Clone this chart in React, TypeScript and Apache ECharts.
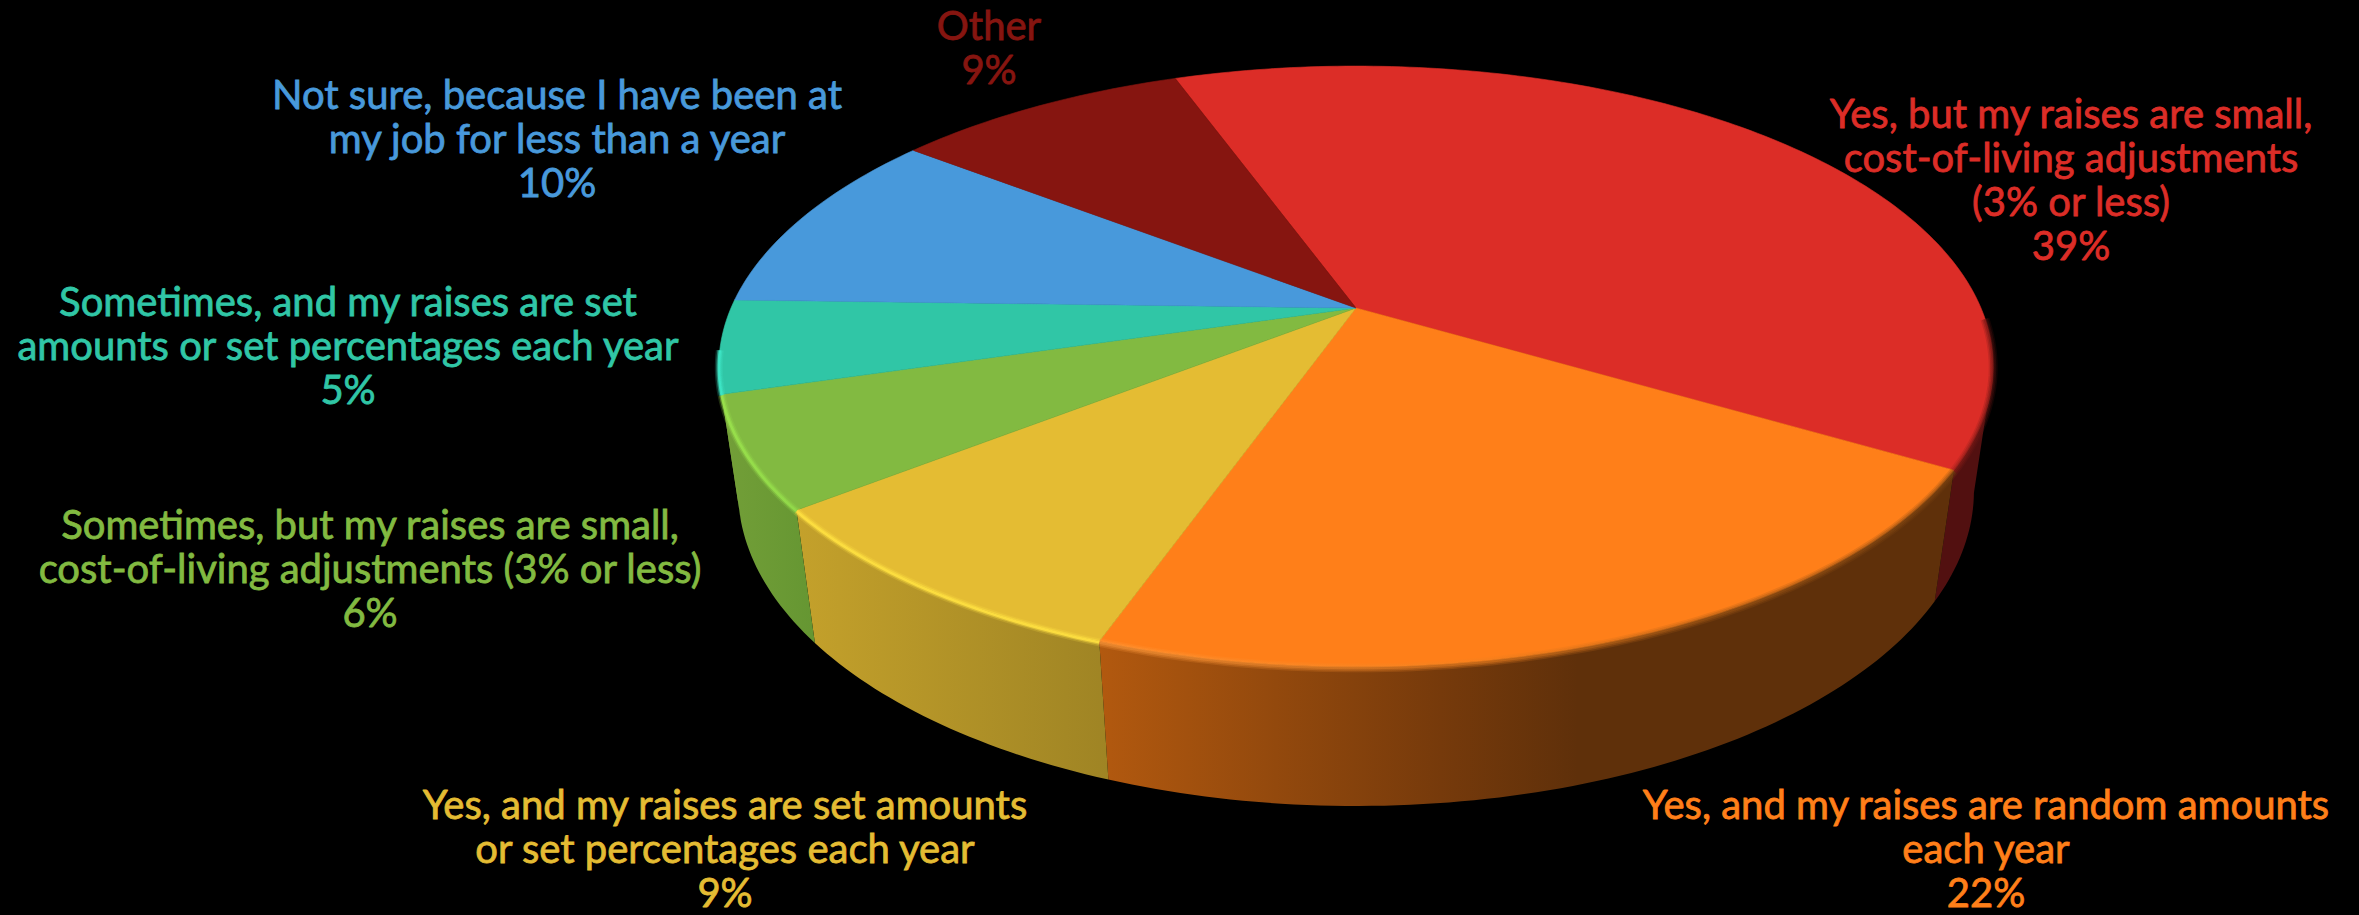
import React, { useEffect, useRef } from "react";
import * as echarts from "echarts";

// Survey answers, clockwise from the top of the pie.
const categories = [
  "Yes, but my raises are small,\ncost-of-living adjustments\n(3% or less)",
  "Yes, and my raises are random amounts\neach year",
  "Yes, and my raises are set amounts\nor set percentages each year",
  "Sometimes, but my raises are small,\ncost-of-living adjustments (3% or less)",
  "Sometimes, and my raises are set\namounts or set percentages each year",
  "Not sure, because I have been at\nmy job for less than a year",
  "Other",
];
const shares = [39, 22, 9, 6, 5, 10, 9];

const faceColors = ["#DC2D27", "#FF7F19", "#E4BC33", "#82BA41", "#30C6A6", "#4899DB", "#861510"];
const rimStops: [number, string][][] = [
  [[0, "#8E1D18"], [1, "#5E1210"]],
  [[0, "#FF9A3C"], [0.45, "#F0801E"], [0.7, "#A85A14"], [1, "#7A4210"]],
  [[0, "#FFE040"], [1, "#FFE040"]],
  [[0, "#9AE24C"], [1, "#93DC4A"]],
  [[0, "#3DE6C6"], [1, "#3DE6C6"]],
  [[0, "#4899DB"], [1, "#4899DB"]],
  [[0, "#861510"], [1, "#861510"]],
];
const sideStops: [number, string][][] = [
  [[0, "#521010"], [1, "#521010"]],
  [[0, "#B2590F"], [0.4, "#763A0B"], [0.56, "#5F300A"], [1, "#5F300A"]],
  [[0, "#C4A12B"], [1, "#9F8424"]],
  [[0, "#739F38"], [1, "#659632"]],
  [[0, "#739F38"], [1, "#739F38"]],
  [[0, "#3A7CB0"], [1, "#3A7CB0"]],
  [[0, "#5A0E0B"], [1, "#5A0E0B"]],
];

// Centre x and the middle of the first text line for each label.
const labelAnchors: [number, number][] = [
  [2071, 113], [1986, 804], [725, 804], [370, 524], [348, 301], [557, 94], [989, 25],
];
const LINE_STEP = 44;

// Tilted-disc projection: a unit circle seen in perspective, with a lower copy for the base.
const CX = 1356;
const CY = 308;
const RADIUS = 625;
const TILT = 289;
const PERSPECTIVE = 0.1946;
const BASE_DROP = 127;
const BASE_RECEDE = 0.03;
const START_DEG = 250;

// The wall is visible between the two silhouette tangents of the disc.
const TANGENT_DEG = (Math.asin(PERSPECTIVE) * 180) / Math.PI;
const WALL_ARC: [number, number] = [360 + TANGENT_DEG, 540 - TANGENT_DEG];
const RIM_ARC: [number, number] = [362, 532];

const project = (deg: number, base: boolean): number[] => {
  const t = (deg * Math.PI) / 180;
  const u = Math.cos(t);
  const v = Math.sin(t);
  const w = 1 - PERSPECTIVE * v + (base ? BASE_RECEDE : 0);
  return [CX + (RADIUS * u) / w, CY + (TILT * v + (base ? BASE_DROP : 0)) / w];
};

const total = shares.reduce((a, b) => a + b, 0);
const sliceRange = (index: number, value: number): [number, number] => {
  let before = 0;
  for (let i = 0; i < index; i++) before += shares[i];
  const a = START_DEG + (before / total) * 360;
  return [a, a + (value / total) * 360];
};

const clip = (a: number, b: number, range: [number, number]): [number, number] | null => {
  const lo = Math.max(a, range[0]);
  const hi = Math.min(b, range[1]);
  return hi > lo ? [lo, hi] : null;
};

const arc = (a: number, b: number, base: boolean): number[][] => {
  const n = Math.max(2, Math.ceil(b - a));
  const pts: number[][] = [];
  for (let i = 0; i <= n; i++) pts.push(project(a + ((b - a) * i) / n, base));
  return pts;
};

const horizontal = (stops: [number, string][]) =>
  new echarts.graphic.LinearGradient(
    0, 0, 1, 0,
    stops.map(([offset, color]) => ({ offset, color }))
  );

const renderSide = (params: any, api: any) => {
  const i = params.dataIndex;
  const [a, b] = sliceRange(i, api.value(0));
  const part = clip(a, b, WALL_ARC);
  if (!part) return { type: "group", children: [] };
  const points = [...arc(part[0], part[1], false), ...arc(part[0], part[1], true).reverse()];
  return {
    type: "polygon",
    shape: { points },
    style: { fill: horizontal(sideStops[i]) },
  };
};

const renderTop = (params: any, api: any) => {
  const i = params.dataIndex;
  const [a, b] = sliceRange(i, api.value(0));
  return {
    type: "polygon",
    shape: { points: [[CX, CY], ...arc(a, b, false)] },
    style: { fill: faceColors[i], stroke: faceColors[i], lineWidth: 0.6 },
  };
};

// Soft bevel along the front edge of the disc.
const renderRim = (params: any, api: any) => {
  const i = params.dataIndex;
  const [a, b] = sliceRange(i, api.value(0));
  const part = clip(a, b, RIM_ARC);
  if (!part) return { type: "group", children: [] };
  const lift = arc(part[0], part[1], false).map(([x, y]) => [x, y + 1]);
  const layer = (lineWidth: number, opacity: number) => ({
    type: "polyline",
    shape: { points: lift },
    style: { fill: "none", stroke: horizontal(rimStops[i]), lineWidth, opacity },
  });
  const children = i < 2
    ? [layer(9, 0.2), layer(6, 0.3), layer(3, 0.4)]
    : [layer(8, 0.2), layer(5, 0.45), layer(2.5, 0.9)];
  return { type: "group", children };
};

const renderLabel = (params: any, api: any) => {
  const i = params.dataIndex;
  const [x, y] = labelAnchors[i];
  const lines = [...categories[i].split("\n"), `${api.value(0)}%`];
  return {
    type: "group",
    children: lines.map((text, n) => ({
      type: "text",
      x,
      y: y + n * LINE_STEP,
      style: {
        text,
        fill: faceColors[i],
        stroke: faceColors[i],
        lineWidth: 0.8,
        font: '400 40px "Lato", sans-serif',
        align: "center",
        verticalAlign: "middle",
      },
    })),
  };
};

const customSeries = (renderItem: any, z: number) => ({
  type: "custom",
  coordinateSystem: "none",
  renderItem,
  data: shares,
  z,
  silent: true,
});

export default function App() {
  const ref = useRef<HTMLDivElement>(null);
  useEffect(() => {
    document.body.style.margin = "0";
    document.body.style.background = "#000";
    const chart = echarts.init(ref.current!, undefined, { renderer: "svg" });
    chart.setOption({
      animation: false,
      backgroundColor: "#000000",
      series: [
        customSeries(renderSide, 1),
        customSeries(renderTop, 2),
        customSeries(renderRim, 3),
        customSeries(renderLabel, 4),
      ],
    });
    return () => chart.dispose();
  }, []);
  return <div ref={ref} style={{ width: 2359, height: 915 }} />;
}
